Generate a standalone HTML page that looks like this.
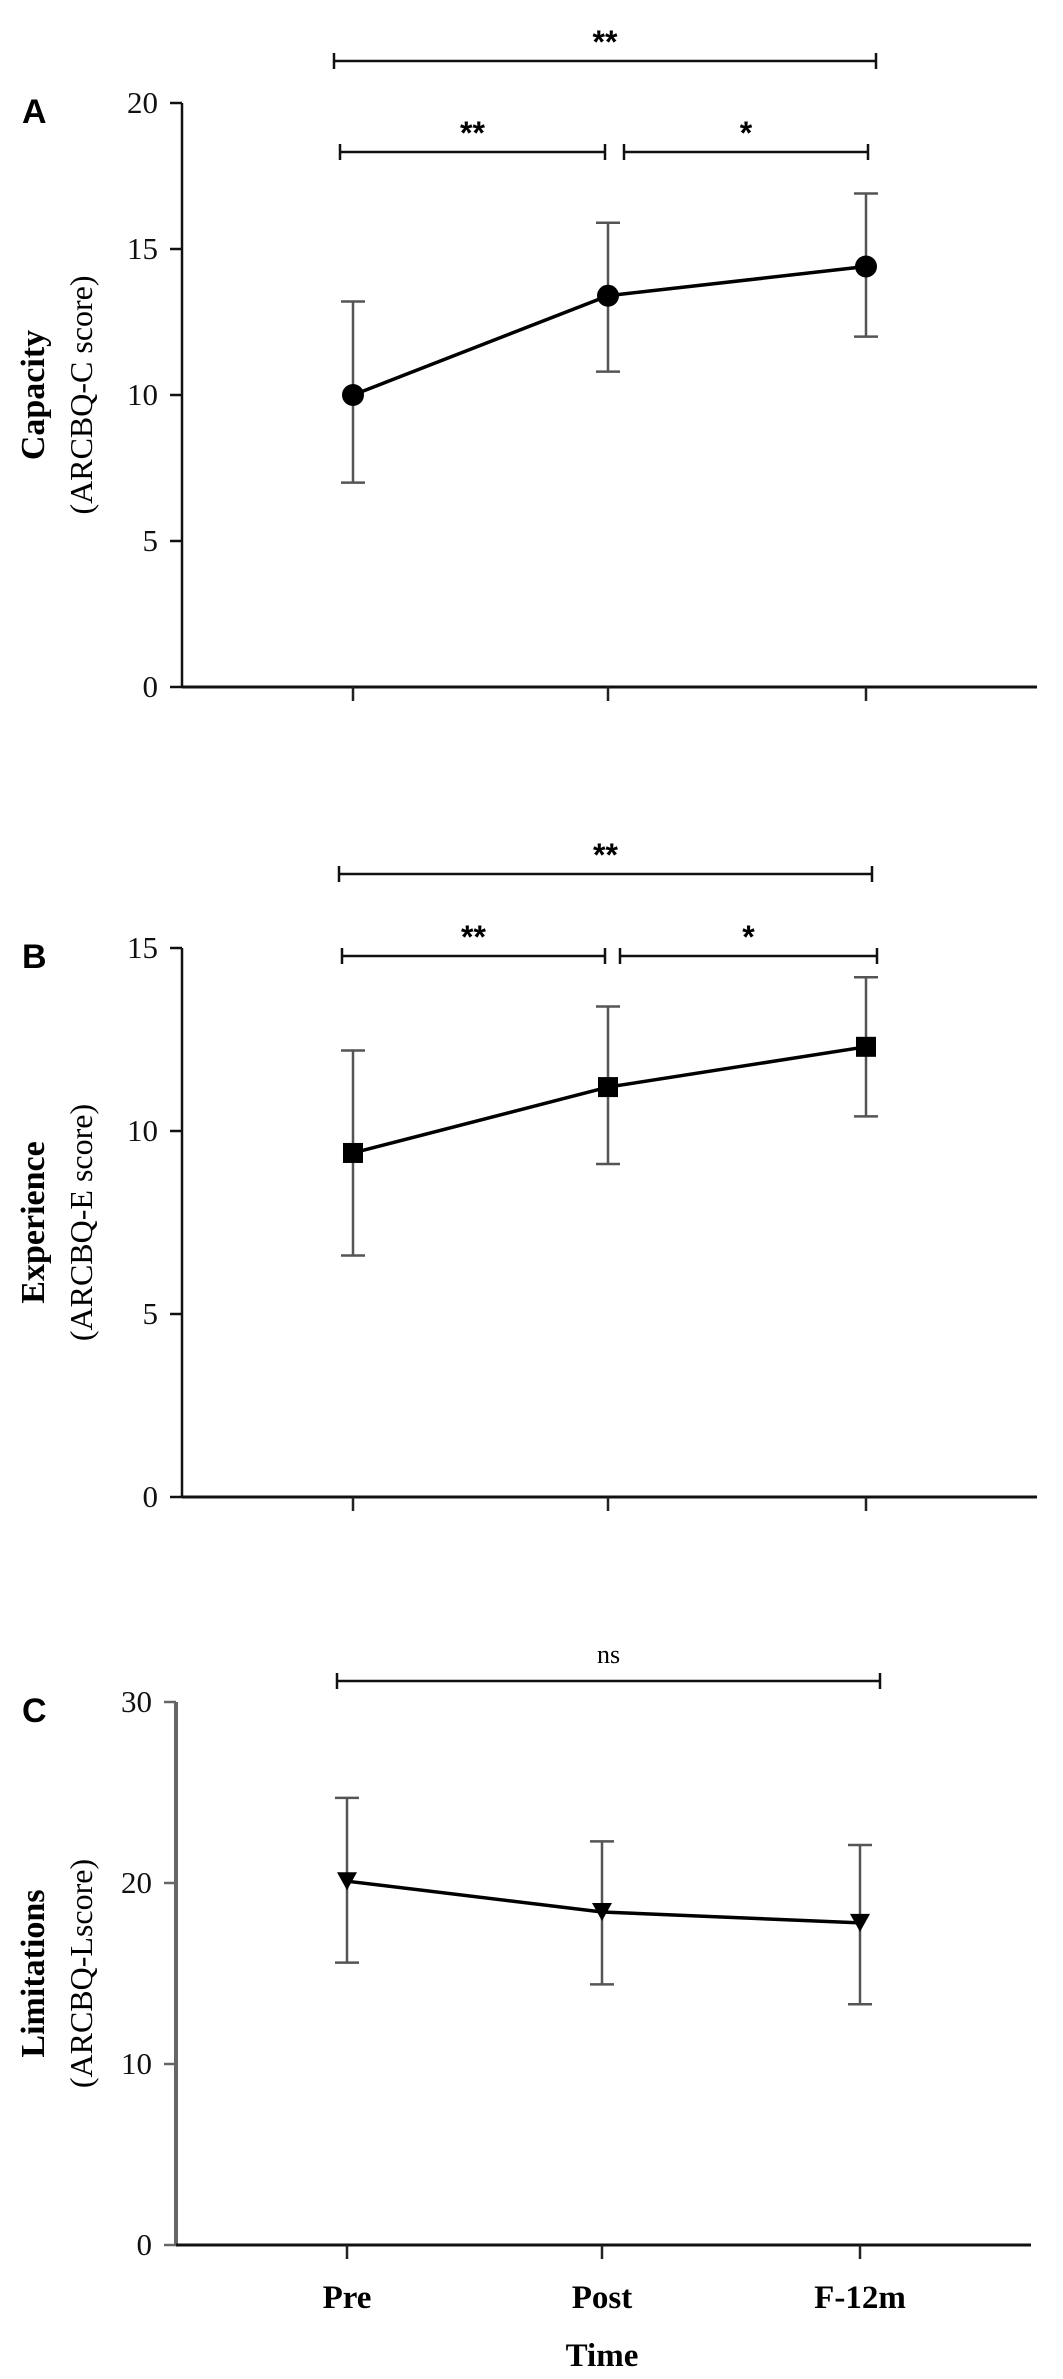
<!DOCTYPE html>
<html><head><meta charset="utf-8"><style>
html,body{margin:0;padding:0;background:#fff}
svg{display:block}
text{font-family:"Liberation Serif",serif}
</style></head><body>
<svg id="fig" width="1063" height="2379" viewBox="0 0 1063 2379"></svg>
<script>
const categories = ["Pre","Post","F-12m"];
const capacityMean = [10.0, 13.4, 14.4];
const capacityLow = [7.0, 10.8, 12.0];
const capacityHigh = [13.2, 15.9, 16.9];
const experienceMean = [9.4, 11.2, 12.3];
const experienceLow = [6.6, 9.1, 10.4];
const experienceHigh = [12.2, 13.4, 14.2];
const limitMean = [20.1, 18.4, 17.8];
const limitLow = [15.6, 14.4, 13.3];
const limitHigh = [24.7, 22.3, 22.1];
const ticksA = [0,5,10,15,20];
const ticksB = [0,5,10,15];
const ticksC = [0,10,20,30];

const NS="http://www.w3.org/2000/svg";
const svg=document.getElementById('fig');
function mk(tag,attrs,parent){const e=document.createElementNS(NS,tag);for(const k in attrs)e.setAttribute(k,attrs[k]);(parent||svg).appendChild(e);return e;}

const panels=[
 {id:'a',letter:'A',title:'Capacity',sub:'(ARCBQ-C score)',mean:capacityMean,lo:capacityLow,hi:capacityHigh,ticks:ticksA,max:20,top:103,bottom:687,ax:182,axEnd:1037,xs:[353,608,866],marker:'circle',axColor:'#111',axW:2.5,
  brackets:[{x1:334,x2:876,y:61,t:'**'},{x1:340,x2:605,y:152,t:'**'},{x1:624,x2:868,y:152,t:'*'}]},
 {id:'b',letter:'B',title:'Experience',sub:'(ARCBQ-E score)',mean:experienceMean,lo:experienceLow,hi:experienceHigh,ticks:ticksB,max:15,top:948,bottom:1497,ax:182,axEnd:1037,xs:[353,608,866],marker:'square',axColor:'#111',axW:2.5,
  brackets:[{x1:339,x2:872,y:874,t:'**'},{x1:342,x2:605,y:956,t:'**'},{x1:620,x2:877,y:956,t:'*'}]},
 {id:'c',letter:'C',title:'Limitations',sub:'(ARCBQ-Lscore)',mean:limitMean,lo:limitLow,hi:limitHigh,ticks:ticksC,max:30,top:1702,bottom:2245,ax:176,axEnd:1031,xs:[347,602,860],marker:'triangle',axColor:'#666',axW:4,
  brackets:[{x1:337,x2:880,y:1681,t:'ns'}]}
];

panels.forEach(p=>{
  const g=mk('g',{});
  
  
  const y=v=>p.bottom-(v/p.max)*(p.bottom-p.top);
  const lt=mk('text',{x:22,y:p.top+20,'font-size':34,'font-weight':'bold',style:'font-family:"Liberation Sans",sans-serif'},g);
  lt.textContent=p.letter;
  
  
  // y axis
  const ya=mk('line',{x1:p.ax,y1:p.top,x2:p.ax,y2:p.bottom,stroke:p.axColor,'stroke-width':p.axW},g);
  
  
  const xa=mk('line',{x1:p.ax,y1:p.bottom,x2:p.axEnd,y2:p.bottom,stroke:'#111','stroke-width':3},g);
  
  
  p.ticks.forEach(t=>{
    mk('line',{x1:p.ax-12,y1:y(t),x2:p.ax,y2:y(t),stroke:p.axColor,'stroke-width':2.5},g);
    const tx=mk('text',{x:p.ax-24,y:y(t)+10,'font-size':31,'text-anchor':'end',fill:'#111'},g);
    tx.textContent=t;
    
    
  });
  p.xs.forEach(x=>mk('line',{x1:x,y1:p.bottom,x2:x,y2:p.bottom+14,stroke:'#222','stroke-width':2.5},g));
  // y title
  const cy=(p.top+p.bottom)/2;
  const t1=mk('text',{x:0,y:0,'font-size':34,'font-weight':'bold','text-anchor':'middle',transform:`translate(44 ${cy}) rotate(-90)`},g);
  t1.textContent=p.title;
  
  
  const t2=mk('text',{x:0,y:0,'font-size':32,'text-anchor':'middle',transform:`translate(92 ${cy}) rotate(-90)`},g);
  t2.textContent=p.sub;
  
  
  // error bars
  p.mean.forEach((m,i)=>{
    const x=p.xs[i];
    const eb=mk('g',{stroke:'#555','stroke-width':2.5},g);
    
    
    mk('line',{x1:x,y1:y(p.lo[i]),x2:x,y2:y(p.hi[i])},eb);
    mk('line',{x1:x-12,y1:y(p.lo[i]),x2:x+12,y2:y(p.lo[i])},eb);
    mk('line',{x1:x-12,y1:y(p.hi[i]),x2:x+12,y2:y(p.hi[i])},eb);
  });
  const pts=p.mean.map((m,i)=>p.xs[i]+','+y(m)).join(' ');
  const ln=mk('polyline',{points:pts,fill:'none',stroke:'#000','stroke-width':3.5},g);
  
  
  p.mean.forEach((m,i)=>{
    const x=p.xs[i],yy=y(m);let mkr;
    if(p.marker==='circle') mkr=mk('circle',{cx:x,cy:yy,r:11,fill:'#000'},g);
    else if(p.marker==='square') mkr=mk('rect',{x:x-10,y:yy-10,width:20,height:20,fill:'#000'},g);
    else mkr=mk('polygon',{points:`${x-10},${yy-9} ${x+10},${yy-9} ${x},${yy+9}`,fill:'#000'},g);
    
    
  });
  p.brackets.forEach(b=>{
    const bg=mk('g',{stroke:'#111','stroke-width':2.5},g);
    
    
    mk('line',{x1:b.x1,y1:b.y,x2:b.x2,y2:b.y},bg);
    mk('line',{x1:b.x1,y1:b.y-8,x2:b.x1,y2:b.y+8},bg);
    mk('line',{x1:b.x2,y1:b.y-8,x2:b.x2,y2:b.y+8},bg);
    const st=mk('text',{x:(b.x1+b.x2)/2,y:b.t==='ns'?b.y-18:b.y-8,'font-size':b.t==='ns'?26:32,'font-weight':b.t==='ns'?'normal':'bold','text-anchor':'middle',style:b.t==='ns'?'':'font-family:"Liberation Sans",sans-serif'},g);
    st.textContent=b.t;
    
    
  });
  if(p.id==='c'){
    categories.forEach((c,i)=>{
      const tx=mk('text',{x:p.xs[i],y:2308,'font-size':33,'font-weight':'bold','text-anchor':'middle'},g);
      tx.textContent=c;
      
      
    });
    const xt=mk('text',{x:602,y:2366,'font-size':33,'font-weight':'bold','text-anchor':'middle'},g);
    xt.textContent='Time';
    
    
  }
});
</script>
</body></html>
